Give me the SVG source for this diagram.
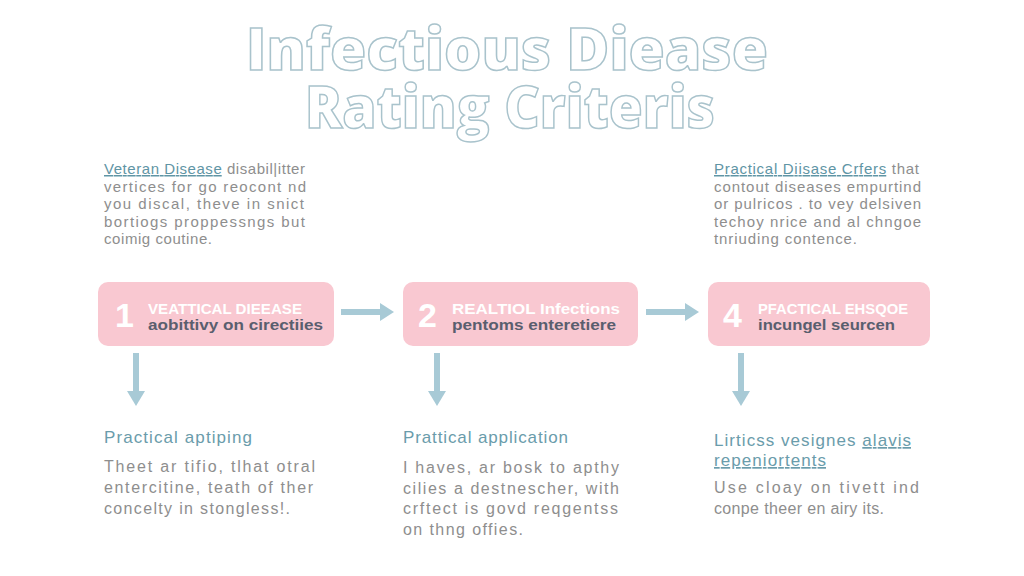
<svg xmlns="http://www.w3.org/2000/svg" width="1024" height="576" viewBox="0 0 1024 576">
<defs>
<style>
.title{font-family:"Open Sans","Liberation Sans",sans-serif;font-weight:800;font-size:58px;fill:#ffffff;stroke:#a9c3cc;stroke-width:1.5;text-anchor:middle}
.para{font-family:"Liberation Sans",sans-serif;font-size:15px;fill:#8e8e8e}
.link{fill:#5f95a5;text-decoration:underline}
.box{fill:#f9c8d1}
.num{font-family:"Liberation Sans",sans-serif;font-weight:700;font-size:34px;fill:#ffffff}
.bt{font-family:"Liberation Sans",sans-serif;font-weight:700;font-size:15px;fill:#ffffff}
.bs{font-family:"Liberation Sans",sans-serif;font-weight:700;font-size:15px;fill:#5a5e6e}
.head{font-family:"Liberation Sans",sans-serif;font-size:17px;fill:#6a9cab}
.body{font-family:"Liberation Sans",sans-serif;font-size:16px;fill:#8e8e8e}
.conn{stroke:#a8cad6;stroke-width:6;fill:none}
.ah{fill:#a8cad6}
</style>
</defs>
<rect width="1024" height="576" fill="#ffffff"/>
<g id="title">
<text class="title" x="507" y="70" textLength="522" lengthAdjust="spacingAndGlyphs">Infectious Diease</text>
<text class="title" x="510" y="128" textLength="410" lengthAdjust="spacingAndGlyphs">Rating Criteris</text>
</g>
<g id="intro-left" class="para">
<text x="104" y="174" textLength="201" lengthAdjust="spacing"><tspan class="link">Veteran Disease</tspan> disabil|itter</text>
<text x="104" y="192" textLength="202" lengthAdjust="spacing">vertices for go reocont nd</text>
<text x="104" y="209" textLength="200" lengthAdjust="spacing">you discal, theve in snict</text>
<text x="104" y="227" textLength="201" lengthAdjust="spacing">bortiogs proppessngs but</text>
<text x="104" y="244" textLength="108" lengthAdjust="spacing">coimig coutine.</text>
</g>
<g id="intro-right" class="para">
<text x="714" y="174" textLength="205" lengthAdjust="spacing"><tspan class="link">Practical Diisase Crfers</tspan> that</text>
<text x="714" y="192" textLength="207" lengthAdjust="spacing">contout diseases empurtind</text>
<text x="714" y="209" textLength="207" lengthAdjust="spacing">or pulricos  . to vey delsiven</text>
<text x="714" y="227" textLength="207" lengthAdjust="spacing">techoy nrice and al chngoe</text>
<text x="714" y="244" textLength="143" lengthAdjust="spacing">tnriuding contence.</text>
</g>
<g id="node1">
<rect class="box" x="98" y="282" width="236" height="64" rx="10"/>
<text class="num" x="115" y="327">1</text>
<text class="bt" x="148" y="314" textLength="154" lengthAdjust="spacingAndGlyphs">VEATTICAL DIEEASE</text>
<text class="bs" x="148" y="330" textLength="175" lengthAdjust="spacingAndGlyphs">aobittivy on cirectiies</text>
</g>
<g id="node2">
<rect class="box" x="403" y="282" width="235" height="64" rx="10"/>
<text class="num" x="418" y="327">2</text>
<text class="bt" x="452" y="314" textLength="168" lengthAdjust="spacingAndGlyphs">REALTIOL Infections</text>
<text class="bs" x="452" y="330" textLength="164" lengthAdjust="spacingAndGlyphs">pentoms enteretiere</text>
</g>
<g id="node3">
<rect class="box" x="708" y="282" width="222" height="64" rx="10"/>
<text class="num" x="723" y="327">4</text>
<text class="bt" x="758" y="314" textLength="150" lengthAdjust="spacingAndGlyphs">PFACTICAL EHSQOE</text>
<text class="bs" x="758" y="330" textLength="137" lengthAdjust="spacingAndGlyphs">incungel seurcen</text>
</g>
<g id="connectors">
<line class="conn" x1="341" y1="312" x2="381" y2="312"/>
<polygon class="ah" points="380,303 394,312 380,321"/>
<line class="conn" x1="646" y1="312" x2="686" y2="312"/>
<polygon class="ah" points="685,303 699,312 685,321"/>
<line class="conn" x1="136" y1="353" x2="136" y2="392"/>
<polygon class="ah" points="127,391 145,391 136,406"/>
<line class="conn" x1="437" y1="353" x2="437" y2="392"/>
<polygon class="ah" points="428,391 446,391 437,406"/>
<line class="conn" x1="741" y1="353" x2="741" y2="392"/>
<polygon class="ah" points="732,391 750,391 741,406"/>
</g>
<g id="detail1">
<text class="head" x="104" y="443" textLength="148" lengthAdjust="spacing">Practical aptiping</text>
<text class="body" x="104" y="472" textLength="211" lengthAdjust="spacing">Theet ar tifio, tlhat otral</text>
<text class="body" x="104" y="493" textLength="209" lengthAdjust="spacing">entercitine, teath of ther</text>
<text class="body" x="104" y="514" textLength="186" lengthAdjust="spacing">concelty in stongless!.</text>
</g>
<g id="detail2">
<text class="head" x="403" y="443" textLength="165" lengthAdjust="spacing">Prattical application</text>
<text class="body" x="403" y="473" textLength="216" lengthAdjust="spacing">I haves, ar bosk to apthy</text>
<text class="body" x="403" y="494" textLength="216" lengthAdjust="spacing">cilies a destnescher, with</text>
<text class="body" x="403" y="514" textLength="215" lengthAdjust="spacing">crftect is govd reqgentss</text>
<text class="body" x="403" y="535" textLength="120" lengthAdjust="spacing">on thng offies.</text>
</g>
<g id="detail3">
<text class="head" x="714" y="446" textLength="197" lengthAdjust="spacing">Lirticss vesignes <tspan text-decoration="underline">alavis</tspan></text>
<text class="head" x="714" y="466" textLength="112" lengthAdjust="spacing" text-decoration="underline">repeniortents</text>
<text class="body" x="714" y="493" textLength="205" lengthAdjust="spacing">Use cloay on tivett ind</text>
<text class="body" x="714" y="514" textLength="170" lengthAdjust="spacing">conpe theer en airy its.</text>
</g>
</svg>
